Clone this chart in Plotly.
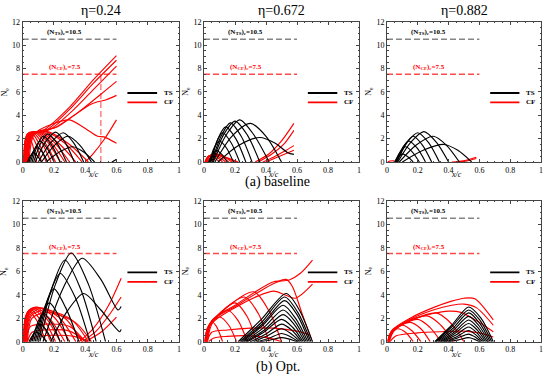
import plotly.graph_objects as go

# ---------------- data ----------------
X_TICKS = [0, 0.2, 0.4, 0.6, 0.8, 1]
X_TICK_TEXT = ["0", "0.2", "0.4", "0.6", "0.8", "1"]
Y_TICKS = [0, 2, 4, 6, 8, 10, 12]
ETA_TITLES = ["η=0.24", "η=0.672", "η=0.882"]
ROW_CAPTIONS = ["(a) baseline", "(b) Opt."]
N_TS_CRIT = 10.5
N_CF_CRIT = 7.5
CRIT_X = [0, 0.6]
P1_MARK_X = 0.5

# each curve: [x list, N list]
p1_ts = [
    [[0.03, 0.05, 0.07, 0.095, 0.12], [0, 0.55, 0.8, 0.5, 0]],
    [[0.04, 0.065, 0.09, 0.125, 0.16], [0, 0.85, 1.3, 0.85, 0]],
    [[0.05, 0.08, 0.11, 0.155, 0.2], [0, 1.2, 1.8, 1.2, 0]],
    [[0.06, 0.095, 0.13, 0.185, 0.24], [0, 1.45, 2.2, 1.45, 0]],
    [[0.07, 0.115, 0.16, 0.22, 0.28], [0, 1.6, 2.4, 1.6, 0]],
    [[0.08, 0.145, 0.21, 0.27, 0.33], [0, 1.7, 2.55, 1.7, 0]],
    [[0.1, 0.18, 0.26, 0.325, 0.39], [0, 1.65, 2.5, 1.65, 0]],
    [[0.12, 0.205, 0.29, 0.365, 0.44], [0, 1.45, 2.2, 1.45, 0]],
    [[0.15, 0.235, 0.32, 0.39, 0.46], [0, 0.85, 1.3, 0.85, 0]],
    [[0.57, 0.585, 0.6], [0, 0.1, 0.25]],
]
p1_cf = [
    [[0.005, 0.015, 0.03, 0.06, 0.09], [0, 1.8, 2.4, 1.6, 0]],
    [[0.007, 0.018, 0.04, 0.08, 0.12], [0, 2.0, 2.5, 1.7, 0]],
    [[0.009, 0.022, 0.05, 0.1, 0.15], [0, 2.1, 2.55, 1.7, 0]],
    [[0.011, 0.026, 0.06, 0.12, 0.18], [0, 2.2, 2.55, 1.7, 0]],
    [[0.013, 0.03, 0.07, 0.14, 0.21], [0, 2.25, 2.6, 1.7, 0]],
    [[0.016, 0.035, 0.08, 0.16, 0.24], [0, 2.3, 2.6, 1.7, 0]],
    [[0.019, 0.04, 0.09, 0.18, 0.27], [0, 2.3, 2.6, 1.7, 0]],
    [[0.022, 0.045, 0.1, 0.2, 0.3], [0, 2.3, 2.6, 1.7, 0]],
    [[0.026, 0.05, 0.12, 0.23, 0.34], [0, 2.3, 2.6, 1.6, 0]],
    [[0.03, 0.055, 0.14, 0.27, 0.38], [0, 2.3, 2.6, 1.6, 0]],
    [[0.035, 0.06, 0.16, 0.3, 0.42], [0, 2.3, 2.6, 1.5, 0]],
    [[0.02, 0.05, 0.13, 0.3, 0.45, 0.6], [0, 2.4, 2.7, 4.7, 7.0, 9.1]],
    [[0.022, 0.055, 0.15, 0.3, 0.45, 0.6], [0, 2.4, 2.7, 4.5, 6.7, 8.7]],
    [[0.025, 0.06, 0.17, 0.32, 0.46, 0.6], [0, 2.4, 2.75, 4.4, 6.3, 8.2]],
    [[0.03, 0.065, 0.2, 0.35, 0.5, 0.6], [0, 2.4, 2.9, 4.2, 5.8, 6.9]],
    [[0.035, 0.07, 0.22, 0.33, 0.43, 0.48, 0.53, 0.6], [0, 2.4, 3.0, 4.0, 4.9, 5.15, 5.3, 5.7]],
    [[0.04, 0.075, 0.2, 0.3, 0.43, 0.48, 0.52, 0.6], [0, 2.4, 3.3, 3.6, 2.6, 2.2, 2.15, 1.6]],
    [[0.4, 0.45, 0.52, 0.6], [0, 0.7, 1.9, 3.6]],
]

p2_ts = [
    [[0.03, 0.055, 0.08, 0.115, 0.15], [0, 0.65, 1.0, 0.65, 0]],
    [[0.035, 0.065, 0.1, 0.145, 0.19], [0, 1.2, 1.8, 1.2, 0]],
    [[0.04, 0.08, 0.12, 0.175, 0.23], [0, 1.65, 2.5, 1.65, 0]],
    [[0.045, 0.09, 0.14, 0.205, 0.27], [0, 2.0, 3.0, 2.0, 0]],
    [[0.05, 0.11, 0.17, 0.24, 0.31], [0, 2.2, 3.35, 2.2, 0]],
    [[0.055, 0.125, 0.2, 0.28, 0.36], [0, 2.3, 3.5, 2.3, 0]],
    [[0.06, 0.145, 0.23, 0.32, 0.42], [0, 2.35, 3.6, 2.35, 0]],
    [[0.07, 0.18, 0.3, 0.4, 0.5], [0, 2.2, 3.3, 2.2, 0]],
    [[0.09, 0.22, 0.36, 0.46, 0.54, 0.58], [0, 1.4, 2.1, 1.6, 0.8, 0.65]],
]
p2_cf = [
    [[0.005, 0.02, 0.04, 0.07, 0.1], [0, 0.4, 0.55, 0.35, 0]],
    [[0.008, 0.025, 0.05, 0.085, 0.12], [0, 0.45, 0.6, 0.4, 0]],
    [[0.01, 0.03, 0.06, 0.1, 0.14], [0, 0.5, 0.65, 0.4, 0]],
    [[0.012, 0.035, 0.07, 0.115, 0.16], [0, 0.5, 0.7, 0.45, 0]],
    [[0.015, 0.04, 0.08, 0.13, 0.18], [0, 0.5, 0.7, 0.45, 0]],
    [[0.02, 0.045, 0.09, 0.14, 0.2], [0, 0.45, 0.65, 0.4, 0]],
    [[0.025, 0.05, 0.1, 0.15, 0.22], [0, 0.4, 0.55, 0.35, 0]],
    [[0.33, 0.42, 0.5, 0.58], [0, 0.7, 1.8, 3.3]],
    [[0.35, 0.44, 0.52, 0.58], [0, 0.7, 1.6, 2.7]],
    [[0.38, 0.46, 0.53, 0.58], [0, 0.5, 1.0, 1.4]],
    [[0.4, 0.48, 0.58], [0, 0.45, 1.0]],
]

p3_ts = [
    [[0.05, 0.075, 0.1, 0.135, 0.17], [0, 0.45, 0.7, 0.45, 0]],
    [[0.05, 0.085, 0.12, 0.165, 0.21], [0, 0.85, 1.3, 0.85, 0]],
    [[0.055, 0.1, 0.14, 0.195, 0.25], [0, 1.2, 1.8, 1.2, 0]],
    [[0.06, 0.115, 0.17, 0.23, 0.29], [0, 1.45, 2.2, 1.45, 0]],
    [[0.065, 0.13, 0.2, 0.27, 0.34], [0, 1.65, 2.5, 1.65, 0]],
    [[0.07, 0.155, 0.24, 0.32, 0.4], [0, 1.7, 2.6, 1.7, 0]],
    [[0.08, 0.19, 0.3, 0.385, 0.47], [0, 1.45, 2.2, 1.45, 0]],
    [[0.1, 0.235, 0.37, 0.46, 0.55], [0, 1.0, 1.5, 1.0, 0]],
]
p3_cf = [
    [[0.005, 0.02, 0.04, 0.06], [0, 0.08, 0.1, 0]],
    [[0.42, 0.5, 0.58], [0, 0.1, 0.4]],
    [[0.45, 0.52, 0.58], [0, 0.1, 0.3]],
]

p4_ts = [
    [[0.04, 0.065, 0.09, 0.12, 0.15], [0, 0.55, 0.8, 0.55, 0]],
    [[0.05, 0.08, 0.11, 0.15, 0.19], [0, 1.0, 1.5, 1.0, 0]],
    [[0.06, 0.095, 0.13, 0.185, 0.24], [0, 1.6, 2.4, 1.6, 0]],
    [[0.07, 0.12, 0.17, 0.23, 0.29], [0, 2.2, 3.3, 2.2, 0]],
    [[0.08, 0.14, 0.2, 0.275, 0.36], [0, 2.9, 4.5, 2.9, 0]],
    [[0.09, 0.165, 0.24, 0.335, 0.43], [0, 3.8, 5.8, 3.8, 0]],
    [[0.1, 0.185, 0.27, 0.37, 0.47], [0, 4.5, 6.95, 4.5, 0]],
    [[0.11, 0.21, 0.31, 0.42, 0.53], [0, 4.9, 7.55, 4.9, 0]],
    [[0.13, 0.26, 0.38, 0.5, 0.61, 0.63], [0, 4.6, 7.1, 5.3, 2.7, 3.0]],
    [[0.18, 0.285, 0.39, 0.5, 0.62, 0.63], [0, 2.6, 4.1, 2.7, 0.85, 1.05]],
]
p4_cf = [
    [[0.005, 0.015, 0.04, 0.09, 0.15], [0, 2.0, 2.6, 1.8, 0]],
    [[0.006, 0.02, 0.05, 0.11, 0.18], [0, 2.2, 2.75, 1.9, 0]],
    [[0.008, 0.025, 0.06, 0.13, 0.21], [0, 2.3, 2.85, 2.0, 0]],
    [[0.01, 0.03, 0.07, 0.15, 0.24], [0, 2.4, 2.9, 2.0, 0]],
    [[0.012, 0.035, 0.08, 0.17, 0.27], [0, 2.4, 2.95, 2.0, 0]],
    [[0.015, 0.04, 0.09, 0.2, 0.3], [0, 2.4, 2.95, 2.1, 0]],
    [[0.018, 0.045, 0.1, 0.23, 0.34], [0, 2.4, 2.9, 2.1, 0]],
    [[0.02, 0.05, 0.12, 0.27, 0.38], [0, 2.3, 2.85, 2.0, 0]],
    [[0.025, 0.055, 0.14, 0.31, 0.42], [0, 2.2, 2.7, 1.9, 0]],
    [[0.03, 0.06, 0.16, 0.34, 0.44], [0, 2.0, 2.5, 1.6, 0]],
    [[0.02, 0.05, 0.15, 0.3, 0.4], [0, 1.3, 1.5, 1.3, 0]],
    [[0.03, 0.06, 0.15, 0.3, 0.41], [0, 0.8, 1.0, 0.9, 0]],
    [[0.04, 0.08, 0.2, 0.33, 0.42], [0, 0.4, 0.55, 0.45, 0]],
    [[0.36, 0.45, 0.55, 0.63], [0, 1.1, 3.1, 5.4]],
    [[0.38, 0.47, 0.56, 0.63], [0, 0.9, 2.4, 3.8]],
    [[0.4, 0.5, 0.6], [0, 0.8, 2.1]],
]

p5_ts = [
    [[0.22, 0.37, 0.53, 0.615, 0.7], [0, 1.9, 4.1, 2.7, 0]],
    [[0.23, 0.375, 0.52, 0.605, 0.69], [0, 1.7, 3.8, 2.5, 0]],
    [[0.24, 0.38, 0.52, 0.6, 0.68], [0, 1.55, 3.5, 2.3, 0]],
    [[0.25, 0.38, 0.51, 0.59, 0.67], [0, 1.4, 3.1, 2.0, 0]],
    [[0.26, 0.385, 0.51, 0.585, 0.66], [0, 1.2, 2.7, 1.75, 0]],
    [[0.27, 0.39, 0.51, 0.58, 0.65], [0, 1.0, 2.3, 1.5, 0]],
    [[0.28, 0.39, 0.5, 0.57, 0.64], [0, 0.85, 1.9, 1.25, 0]],
    [[0.3, 0.4, 0.5, 0.565, 0.63], [0, 0.65, 1.5, 1.0, 0]],
    [[0.32, 0.41, 0.5, 0.56, 0.62], [0, 0.5, 1.1, 0.7, 0]],
    [[0.34, 0.42, 0.5, 0.555, 0.61], [0, 0.3, 0.7, 0.45, 0]],
    [[0.36, 0.43, 0.5, 0.55, 0.6], [0, 0.15, 0.35, 0.22, 0]],
]
p5_cf = [
    [[0.005, 0.02, 0.05, 0.08, 0.12], [0, 1.1, 1.7, 1.3, 0]],
    [[0.006, 0.025, 0.1, 0.16, 0.21], [0, 1.2, 2.1, 1.4, 0]],
    [[0.008, 0.03, 0.15, 0.22, 0.28], [0, 1.3, 2.7, 1.8, 0]],
    [[0.01, 0.035, 0.2, 0.28, 0.34], [0, 1.4, 3.3, 2.1, 0]],
    [[0.012, 0.04, 0.26, 0.35, 0.42], [0, 1.5, 3.8, 2.4, 0]],
    [[0.014, 0.045, 0.32, 0.42, 0.5], [0, 1.6, 4.25, 2.6, 0]],
    [[0.018, 0.05, 0.2, 0.35, 0.45, 0.55, 0.62, 0.7], [0, 1.8, 3.1, 4.4, 5.1, 5.25, 5.8, 6.95]],
    [[0.02, 0.05, 0.2, 0.35, 0.45, 0.53, 0.57, 0.63, 0.69], [0, 1.75, 3.0, 4.2, 4.95, 5.3, 4.7, 2.5, 0.3]],
    [[0.022, 0.055, 0.2, 0.35, 0.45, 0.52, 0.59, 0.7], [0, 1.6, 2.9, 3.9, 4.3, 4.0, 3.7, 4.9]],
    [[0.02, 0.05, 0.15, 0.3, 0.45, 0.6, 0.68], [0, 0.8, 1.0, 1.15, 1.15, 0.9, 0.6]],
    [[0.03, 0.06, 0.15, 0.3, 0.42, 0.5], [0, 0.3, 0.45, 0.5, 0.3, 0]],
]

p6_ts = [
    [[0.31, 0.42, 0.53, 0.61, 0.69], [0, 1.4, 2.95, 2.0, 0]],
    [[0.315, 0.42, 0.53, 0.605, 0.68], [0, 1.25, 2.7, 1.8, 0]],
    [[0.32, 0.425, 0.53, 0.6, 0.67], [0, 1.1, 2.45, 1.6, 0]],
    [[0.33, 0.43, 0.53, 0.595, 0.66], [0, 0.95, 2.15, 1.4, 0]],
    [[0.34, 0.435, 0.53, 0.59, 0.65], [0, 0.8, 1.85, 1.2, 0]],
    [[0.35, 0.44, 0.53, 0.585, 0.64], [0, 0.7, 1.55, 1.0, 0]],
    [[0.36, 0.445, 0.53, 0.58, 0.63], [0, 0.55, 1.25, 0.8, 0]],
    [[0.37, 0.45, 0.53, 0.575, 0.62], [0, 0.4, 0.95, 0.6, 0]],
    [[0.38, 0.455, 0.53, 0.57, 0.61], [0, 0.3, 0.65, 0.42, 0]],
    [[0.4, 0.465, 0.53, 0.565, 0.6], [0, 0.16, 0.35, 0.22, 0]],
]
p6_cf = [
    [[0.005, 0.02, 0.07, 0.12, 0.17], [0, 0.7, 1.1, 0.8, 0]],
    [[0.006, 0.025, 0.1, 0.16, 0.22], [0, 0.8, 1.4, 0.95, 0]],
    [[0.008, 0.03, 0.15, 0.22, 0.28], [0, 0.9, 1.65, 1.1, 0]],
    [[0.01, 0.035, 0.2, 0.28, 0.35], [0, 0.95, 1.9, 1.2, 0]],
    [[0.012, 0.04, 0.26, 0.35, 0.43], [0, 1.0, 2.2, 1.4, 0]],
    [[0.014, 0.045, 0.32, 0.42, 0.5], [0, 1.0, 2.45, 1.5, 0]],
    [[0.01, 0.035, 0.15, 0.3, 0.42, 0.5, 0.57, 0.69], [0, 1.0, 2.0, 2.9, 3.45, 3.7, 3.65, 1.85]],
    [[0.012, 0.04, 0.15, 0.3, 0.42, 0.5, 0.58, 0.69], [0, 0.95, 1.9, 2.7, 3.1, 3.2, 2.9, 1.4]],
    [[0.014, 0.045, 0.15, 0.3, 0.4, 0.48, 0.58, 0.69], [0, 0.9, 1.8, 2.4, 2.6, 2.5, 1.8, 0.85]],
    [[0.02, 0.06, 0.2, 0.35, 0.5, 0.6, 0.69], [0, 0.5, 0.75, 0.85, 0.9, 0.75, 0.4]],
]

PANELS = [(p1_ts, p1_cf), (p2_ts, p2_cf), (p3_ts, p3_cf),
          (p4_ts, p4_cf), (p5_ts, p5_cf), (p6_ts, p6_cf)]

# ---------------- layout geometry ----------------
W, H = 550, 379
COL_PX = [(22.7, 179.0), (204.0, 359.0), (387.0, 541.0)]
ROW_PX = [(21.7, 162.0), (200.7, 341.7)]
FONT = "Liberation Serif"
TS_COLOR = "#000000"
CF_COLOR = "#ff0000"

fig = go.Figure()
layout = dict(width=W, height=H, margin=dict(l=0, r=0, t=0, b=0, pad=0, autoexpand=False),
              paper_bgcolor="white", plot_bgcolor="white",
              showlegend=False, font=dict(family=FONT, color="black"))
annotations = []
shapes = []

for i, (ts, cf) in enumerate(PANELS):
    k = i + 1
    r, c = divmod(i, 3)
    xs = "" if k == 1 else str(k)
    xa, ya = "x" + xs, "y" + xs
    x0, x1 = COL_PX[c]
    y0, y1 = ROW_PX[r]
    axis_common = dict(showgrid=False, zeroline=False, showline=True, linecolor="#444",
                       linewidth=1, mirror="allticks", ticks="inside", ticklen=3,
                       tickcolor="#444", tickfont=dict(size=8, family=FONT), automargin=False)
    layout["xaxis" + xs] = dict(domain=[x0 / W, x1 / W], range=[0, 1], anchor=ya,
                                tickvals=X_TICKS, ticktext=X_TICK_TEXT,
                                minor=dict(ticks="inside", ticklen=1.5, dtick=0.05, tickcolor="#444"),
                                **axis_common)
    layout["yaxis" + xs] = dict(domain=[1 - y1 / H, 1 - y0 / H], range=[0, 12], anchor=xa,
                                tickvals=Y_TICKS,
                                minor=dict(ticks="inside", ticklen=1.5, dtick=0.5, tickcolor="#444"),
                                **axis_common)

    fig.add_trace(go.Scatter(x=CRIT_X, y=[N_TS_CRIT, N_TS_CRIT], mode="lines", xaxis=xa, yaxis=ya,
                             line=dict(color="#858585", width=1.5, dash="6px,3px"), hoverinfo="skip"))
    fig.add_trace(go.Scatter(x=CRIT_X, y=[N_CF_CRIT, N_CF_CRIT], mode="lines", xaxis=xa, yaxis=ya,
                             line=dict(color="#ff4a4a", width=1.5, dash="6px,3px"), hoverinfo="skip"))
    if k == 1:
        fig.add_trace(go.Scatter(x=[P1_MARK_X, P1_MARK_X], y=[0, N_CF_CRIT], mode="lines",
                                 xaxis=xa, yaxis=ya,
                                 line=dict(color="#ff8080", width=1.5, dash="6px,3px"),
                                 hoverinfo="skip"))

    for xs_, ys_ in cf:
        fig.add_trace(go.Scatter(x=xs_, y=ys_, mode="lines", xaxis=xa, yaxis=ya,
                                 line=dict(color=CF_COLOR, width=1.15, shape="spline", smoothing=0.8),
                                 hoverinfo="skip"))
    for xs_, ys_ in ts:
        fig.add_trace(go.Scatter(x=xs_, y=ys_, mode="lines", xaxis=xa, yaxis=ya,
                                 line=dict(color=TS_COLOR, width=1.15, shape="spline", smoothing=0.8),
                                 hoverinfo="skip"))

    annotations.append(dict(x=0.27, y=N_TS_CRIT, xref=xa, yref=ya, xanchor="center", yanchor="bottom",
                            yshift=1, text="<b>(N<sub>TS</sub>)<sub>c</sub>=10.5</b>", showarrow=False,
                            font=dict(size=7, family=FONT, color="black")))
    annotations.append(dict(x=0.27, y=N_CF_CRIT, xref=xa, yref=ya, xanchor="center", yanchor="bottom",
                            yshift=1, text="<b>(N<sub>CF</sub>)<sub>c</sub>=7.5</b>", showarrow=False,
                            font=dict(size=7, family=FONT, color=CF_COLOR)))
    shapes.append(dict(type="line", xref=xa, yref=ya, x0=0.67, x1=0.86, y0=5.9, y1=5.9,
                       line=dict(color=TS_COLOR, width=1.8)))
    shapes.append(dict(type="line", xref=xa, yref=ya, x0=0.67, x1=0.86, y0=5.1, y1=5.1,
                       line=dict(color=CF_COLOR, width=1.8)))
    annotations.append(dict(x=0.89, y=5.9, xref=xa, yref=ya, xanchor="left", yanchor="middle",
                            text="<b>TS</b>", showarrow=False, font=dict(size=7, family=FONT)))
    annotations.append(dict(x=0.89, y=5.1, xref=xa, yref=ya, xanchor="left", yanchor="middle",
                            text="<b>CF</b>", showarrow=False, font=dict(size=7, family=FONT)))
    annotations.append(dict(x=0.45, y=0, xref=xa + " domain", yref=ya + " domain",
                            xanchor="center", yanchor="top", yshift=-6, text="<i>x/c</i>",
                            showarrow=False, font=dict(size=8, family=FONT)))
    annotations.append(dict(x=0, y=0.5, xref=xa + " domain", yref=ya + " domain",
                            xanchor="right", yanchor="middle", xshift=-11, text="N<sub>e</sub>",
                            textangle=-90, showarrow=False, font=dict(size=8, family=FONT)))

for c, t in enumerate(ETA_TITLES):
    x0, x1 = COL_PX[c]
    annotations.append(dict(x=(x0 + x1) / 2 / W, y=1 - 10 / H, xref="paper", yref="paper",
                            xanchor="center", yanchor="middle",
                            text=t, showarrow=False, font=dict(size=14, family=FONT)))
annotations.append(dict(x=0.505, y=1 - 182 / H, xref="paper", yref="paper", xanchor="center",
                        yanchor="middle", text=ROW_CAPTIONS[0],
                        showarrow=False, font=dict(size=14, family=FONT)))
annotations.append(dict(x=0.505, y=1 - 367 / H, xref="paper", yref="paper", xanchor="center",
                        yanchor="middle", text=ROW_CAPTIONS[1],
                        showarrow=False, font=dict(size=14, family=FONT)))

layout["annotations"] = annotations
layout["shapes"] = shapes
fig.update_layout(**layout)
fig.write_html("out.html", config={"displayModeBar": False},
               post_script="document.body.style.margin='0';")
